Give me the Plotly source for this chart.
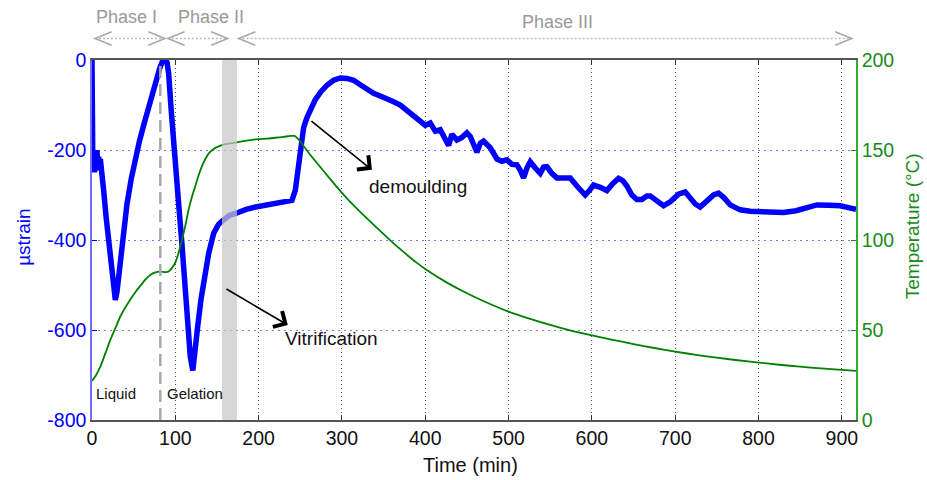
import plotly.graph_objects as go

# ---------------- data ----------------
strain_time = [0, 0.5, 1, 2, 3, 4, 5, 6, 7, 8, 9, 10, 12, 14, 17, 20, 23, 26, 28, 30, 33, 37, 42, 47,
               52, 57, 62, 67, 72, 77, 81, 84, 87, 90, 92, 95, 98, 101, 104, 108, 112, 115, 118, 121,
               124, 127, 131, 135, 140, 146, 152, 158, 165, 174, 185, 198, 210, 222, 232, 240, 244,
               247, 250, 254, 258, 263, 268, 275, 282, 290, 298, 306, 314, 322, 330, 338, 346, 354,
               362, 370, 378, 386, 394, 400, 406, 412, 418, 424, 428, 432, 438, 444, 450, 454, 458,
               462, 466, 470, 478, 486, 492, 498, 504, 510, 514, 518, 522, 526, 532, 538, 542, 546,
               552, 558, 566, 574, 582, 588, 592, 597, 602, 610, 618, 625, 632, 637, 642, 648, 654,
               660, 666, 670, 678, 686, 694, 704, 712, 718, 724, 730, 738, 746, 752, 758, 766, 778,
               790, 800, 815, 830, 845, 858, 870, 885, 898, 908, 917]
strain_values = [0, -120, -240, -200, -250, -205, -230, -200, -245, -215, -235, -220, -250, -290, -350,
                 -400, -460, -515, -533, -515, -460, -390, -320, -265, -220, -180, -145, -110, -75, -45,
                 -20, -5, 0, -5, -30, -110, -190, -260, -320, -410, -510, -590, -660, -690, -650, -590,
                 -530, -480, -430, -385, -365, -355, -345, -340, -332, -326, -322, -318, -316, -312,
                 -290, -250, -195, -150, -128, -105, -88, -70, -56, -45, -40, -41, -45, -55, -65, -74,
                 -80, -88, -93, -100, -112, -124, -135, -145, -140, -158, -155, -175, -190, -165, -178,
                 -172, -162, -170, -185, -205, -185, -180, -195, -220, -225, -222, -232, -233, -245,
                 -262, -240, -226, -240, -252, -238, -237, -252, -262, -262, -262, -280, -295, -300,
                 -290, -278, -283, -290, -275, -263, -268, -280, -300, -310, -310, -302, -302, -315,
                 -324, -315, -298, -293, -305, -320, -327, -315, -300, -296, -305, -322, -333, -336,
                 -336, -338, -339, -335, -328, -322, -323, -324, -328, -332]

temp_time = [0, 5, 10, 16, 22, 28, 34, 40, 46, 52, 58, 64, 70, 76, 82, 88, 92, 96, 100, 104, 108, 112,
             116, 120, 124, 128, 132, 136, 140, 146, 152, 160, 170, 180, 190, 200, 210, 220, 230, 238,
             243, 247, 252, 260, 270, 280, 290, 300, 310, 320, 330, 340, 350, 360, 370, 380, 390, 400,
             425, 450, 475, 500, 525, 550, 575, 600, 625, 650, 675, 700, 725, 750, 775, 800, 825, 850,
             875, 900, 917]
temp_values = [21.7, 25, 29.6, 37, 44.5, 51, 57.5, 62.5, 67, 71, 74.5, 78, 80.6, 82, 82.4, 82.2, 82.5,
               84.5, 87.5, 93, 100, 108, 117, 124, 130, 136, 141, 145, 148, 150.5, 152, 153.2, 154,
               154.8, 155.5, 156, 156.3, 156.8, 157.3, 157.8, 157.8, 156.3, 153.5, 148.5, 142.8, 137.2,
               131.6, 126.2, 121.2, 116.5, 112, 107.6, 103.3, 99, 94.9, 91, 87.3, 83.9, 76.6, 70.4, 65,
               60.2, 56.3, 52.8, 49.7, 47, 44.5, 42.2, 40, 38, 36.2, 34.6, 33.2, 31.9, 30.7, 29.6,
               28.7, 27.9, 27.3]

x_ticks = [0, 100, 200, 300, 400, 500, 600, 700, 800, 900]
strain_ticks = [-800, -600, -400, -200, 0]
strain_tick_labels = ["-800", "-600", "-400", "-200", "0"]
temp_ticks = [0, 50, 100, 150, 200]

phases = ["Phase I", "Phase II", "Phase III"]
phase_starts = [3.6, 91, 176]
phase_ends = [87.6, 163, 912]

XMAX = 917
vitrif_band = (156, 174)
phase_line_t = 82

FONT = "Arial, Liberation Sans, sans-serif"
BLUE = "#0000ff"
GREEN = "#008000"
GREEN_TXT = "#1a8a1a"
GREY = "#a8a8a8"

fig = go.Figure()
fig.add_trace(go.Scatter(x=strain_time, y=strain_values, mode="lines",
                         line=dict(color=BLUE, width=5.5), yaxis="y", showlegend=False))
fig.add_trace(go.Scatter(x=temp_time, y=temp_values, mode="lines", line_shape="spline",
                         line=dict(color=GREEN, width=1.8, smoothing=0.6), yaxis="y2", showlegend=False))

shapes = []
# vitrification band (drawn semi-transparent above the curves)
shapes.append(dict(type="rect", xref="x", yref="paper", x0=vitrif_band[0], x1=vitrif_band[1],
                   y0=0, y1=1, fillcolor="rgba(200,200,200,0.72)", line=dict(width=0), layer="above"))
# liquid / gelation separator
shapes.append(dict(type="line", xref="x", yref="paper", x0=phase_line_t, x1=phase_line_t, y0=0, y1=1,
                   line=dict(color=GREY, width=2.5, dash="12px,6px"), layer="above"))

# phase arrows above the plot
ya = 1.0597
hh = 0.0186
cw = 20.0 / XMAX
for s, e in zip(phase_starts, phase_ends):
    a, b = s / XMAX, e / XMAX
    shapes.append(dict(type="line", xref="paper", yref="paper", x0=a, x1=b, y0=ya, y1=ya,
                       line=dict(color="#bbbbbb", width=1.3, dash="2px,2px")))
    shapes.append(dict(type="path", xref="paper", yref="paper",
                       path=f"M{a+cw},{ya+hh} L{a},{ya} L{a+cw},{ya-hh}",
                       line=dict(color=GREY, width=1.5)))
    shapes.append(dict(type="path", xref="paper", yref="paper",
                       path=f"M{b-cw},{ya+hh} L{b},{ya} L{b-cw},{ya-hh}",
                       line=dict(color=GREY, width=1.5)))

annotations = []
phase_text_x = [0.045, 0.156, 0.609]
phase_text_y = [1.119, 1.119, 1.106]
for name, px, py in zip(phases, phase_text_x, phase_text_y):
    annotations.append(dict(text=name, xref="paper", yref="paper", x=px, y=py, showarrow=False,
                            xanchor="center", yanchor="middle",
                            font=dict(family=FONT, size=18, color="#999999")))

# arrows with labels
annotations.append(dict(xref="x", yref="y", axref="x", ayref="y", x=336, y=-244, ax=261.6, ay=-133,
                        text="", showarrow=True, arrowhead=4, arrowsize=2.2, arrowwidth=1.6,
                        arrowcolor="black"))
annotations.append(dict(xref="x", yref="y", x=330, y=-282, text="demoulding", showarrow=False,
                        xanchor="left", yanchor="middle",
                        font=dict(family=FONT, size=19, color="#111111")))
annotations.append(dict(xref="x", yref="y", axref="x", ayref="y", x=235, y=-589, ax=159.6, ay=-507,
                        text="", showarrow=True, arrowhead=4, arrowsize=2.2, arrowwidth=1.6,
                        arrowcolor="black"))
annotations.append(dict(xref="x", yref="y", x=229, y=-618, text="Vitrification", showarrow=False,
                        xanchor="left", yanchor="middle",
                        font=dict(family=FONT, size=19, color="#111111")))
annotations.append(dict(xref="x", yref="y", x=2.4, y=-740, text="Liquid", showarrow=False,
                        xanchor="left", yanchor="middle",
                        font=dict(family=FONT, size=15, color="#111111")))
annotations.append(dict(xref="x", yref="y", x=87.6, y=-740, text="Gelation", showarrow=False,
                        xanchor="left", yanchor="middle",
                        font=dict(family=FONT, size=15, color="#111111")))

# axis titles
annotations.append(dict(xref="paper", yref="paper", x=-0.089, y=0.506, text="µstrain", textangle=-90,
                        xanchor="center", yanchor="middle",
                        showarrow=False, font=dict(family=FONT, size=19, color=BLUE)))
annotations.append(dict(xref="paper", yref="paper", x=1.075, y=0.539, text="Temperature (°C)",
                        textangle=-90, xanchor="center", yanchor="middle",
                        showarrow=False, font=dict(family=FONT, size=19, color=GREEN_TXT)))
annotations.append(dict(xref="paper", yref="paper", x=0.496, y=-0.125, text="Time (min)",
                        xanchor="center", yanchor="middle",
                        showarrow=False, font=dict(family=FONT, size=20, color="#111111")))

fig.update_layout(
    width=927, height=480,
    margin=dict(l=92, r=71, t=60, b=60),
    paper_bgcolor="white", plot_bgcolor="white",
    font=dict(family=FONT),
    showlegend=False,
    xaxis=dict(range=[0, XMAX], tickvals=x_ticks, ticks="inside", ticklen=5, tickcolor="#333",
               showline=True, linecolor="#555", linewidth=1.5, mirror="ticks",
               showgrid=True, gridcolor="#555555", griddash="1px,3px", gridwidth=1,
               zeroline=False, tickfont=dict(family=FONT, size=19.5, color="#111111")),
    yaxis=dict(range=[-800, 0], tickvals=strain_ticks, ticktext=strain_tick_labels,
               ticks="inside", ticklen=5, tickcolor=BLUE,
               showline=True, linecolor="#7070ff", linewidth=1.5,
               showgrid=True, gridcolor="#7777ff", griddash="2px,4px", gridwidth=1,
               zeroline=False, tickfont=dict(family=FONT, size=19.5, color=BLUE)),
    yaxis2=dict(range=[0, 200], tickvals=temp_ticks, overlaying="y", side="right", ticks="inside",
                ticklen=5, tickcolor=GREEN_TXT, showline=True, linecolor="#33aa33", linewidth=1.5,
                showgrid=False, zeroline=False,
                tickfont=dict(family=FONT, size=19.5, color=GREEN_TXT)),
    shapes=shapes,
    annotations=annotations,
)

fig.write_html("out.html")
